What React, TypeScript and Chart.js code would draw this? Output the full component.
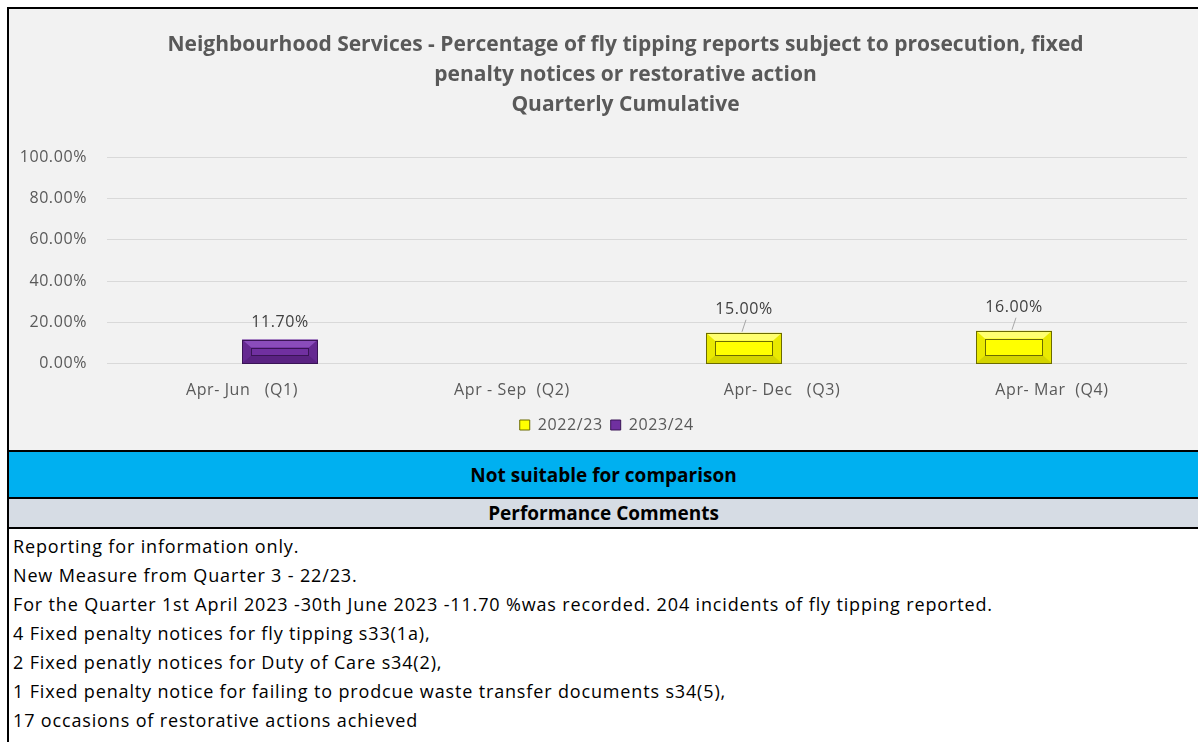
import React, { useEffect, useRef } from "react";
import { Chart, registerables } from "chart.js";

Chart.register(...registerables);

const titleLines = [
  "Neighbourhood Services - Percentage of fly tipping reports subject to prosecution, fixed",
  "penalty notices or restorative action",
  "Quarterly Cumulative",
];
const categories = ["Apr- Jun   (Q1)", "Apr - Sep  (Q2)", "Apr- Dec   (Q3)", "Apr- Mar  (Q4)"];
const seriesNames = ["2022/23", "2023/24"];
const values2022 = [null, null, 15.0, 16.0];
const values2023 = [11.7, null, null, null];
const yMin = 0;
const yMax = 100;
const yStep = 20;
const bannerText = "Not suitable for comparison";
const commentsHeader = "Performance Comments";
const comments = [
  "Reporting for information only.",
  "New Measure from Quarter 3 - 22/23.",
  "For the Quarter 1st April 2023 -30th June 2023 -11.70 %was recorded. 204 incidents of fly tipping reported.",
  "4 Fixed penalty notices for fly tipping s33(1a),",
  "2 Fixed penatly notices for Duty of Care s34(2),",
  "1 Fixed penalty notice for failing to prodcue waste transfer documents s34(5),",
  "17 occasions of restorative actions achieved",
];

const FONT = "'Open Sans', Lato, sans-serif";
const SPACING = "0.6px";
const TITLE_SHIFT = 23;
const palette = [
  { base: "#ffff00", light: "#ffff70", dark: "#d4d400", edge: "#6b6b00" },
  { base: "#7030a0", light: "#8a4cbb", dark: "#5a2282", edge: "#3a1456" },
];

const spacingPlugin = {
  id: "spacing",
  afterLayout(chart: any) {
    const tb = chart.titleBlock;
    if (tb && !tb._noSpacing) {
      const orig = tb.draw;
      tb.draw = function (...args: any[]) {
        const ctx = chart.ctx;
        ctx.save();
        ctx.letterSpacing = "0px";
        ctx.translate(TITLE_SHIFT, 0);
        orig.apply(tb, args);
        ctx.restore();
      };
      tb._noSpacing = true;
    }
  },
  beforeDraw(chart: any) {
    chart.ctx.letterSpacing = SPACING;
  },
};

const bevelPlugin = {
  id: "bevel",
  afterDatasetsDraw(chart: any) {
    const ctx = chart.ctx;
    chart.data.datasets.forEach((ds: any, di: number) => {
      const meta = chart.getDatasetMeta(di);
      const col = palette[di];
      meta.data.forEach((el: any, i: number) => {
        if (ds.data[i] == null) return;
        const { x, y, base, width } = el.getProps(["x", "y", "base", "width"], true);
        const l = x - width / 2;
        const r = x + width / 2;
        const t = Math.min(y, base);
        const b = Math.max(y, base);
        const h = b - t;
        const bx = Math.min(9, width / 4);
        const by = Math.min(8, h / 3);
        ctx.save();
        ctx.fillStyle = col.light;
        ctx.beginPath();
        ctx.moveTo(l, t); ctx.lineTo(r, t); ctx.lineTo(r - bx, t + by); ctx.lineTo(l + bx, t + by); ctx.closePath();
        ctx.fill();
        ctx.fillStyle = col.dark;
        ctx.beginPath();
        ctx.moveTo(l, b); ctx.lineTo(r, b); ctx.lineTo(r - bx, b - by); ctx.lineTo(l + bx, b - by); ctx.closePath();
        ctx.fill();
        ctx.globalAlpha = 0.5;
        ctx.beginPath();
        ctx.moveTo(l, t); ctx.lineTo(l + bx, t + by); ctx.lineTo(l + bx, b - by); ctx.lineTo(l, b); ctx.closePath();
        ctx.fill();
        ctx.beginPath();
        ctx.moveTo(r, t); ctx.lineTo(r - bx, t + by); ctx.lineTo(r - bx, b - by); ctx.lineTo(r, b); ctx.closePath();
        ctx.fill();
        ctx.globalAlpha = 1;
        ctx.fillStyle = col.base;
        ctx.fillRect(l + bx, t + by, width - 2 * bx, h - 2 * by);
        ctx.strokeStyle = col.edge;
        ctx.lineWidth = 1;
        ctx.strokeRect(Math.round(l + bx) + 0.5, Math.round(t + by) + 0.5, Math.round(width - 2 * bx) - 1, Math.round(h - 2 * by) - 1);
        ctx.strokeRect(Math.round(l) + 0.5, Math.round(t) + 0.5, Math.round(width) - 1, Math.round(h) - 1);
        ctx.restore();
      });
    });
  },
};

const labelPlugin = {
  id: "valueLabels",
  afterDatasetsDraw(chart: any) {
    const ctx = chart.ctx;
    ctx.save();
    ctx.font = `16px ${FONT}`;
    ctx.fillStyle = "#404040";
    ctx.textAlign = "center";
    ctx.textBaseline = "middle";
    chart.data.datasets.forEach((ds: any, di: number) => {
      const meta = chart.getDatasetMeta(di);
      meta.data.forEach((el: any, i: number) => {
        const v = ds.data[i];
        if (v == null) return;
        const { x, y } = el.getProps(["x", "y"], true);
        const lifted = di === 0;
        const ly = lifted ? y - 23 : y - 17;
        ctx.fillText(v.toFixed(2) + "%", x, ly);
        if (lifted) {
          ctx.strokeStyle = "#a6a6a6";
          ctx.lineWidth = 1;
          ctx.beginPath();
          ctx.moveTo(x + 2, ly + 10);
          ctx.lineTo(x - 2, y - 1);
          ctx.stroke();
        }
      });
    });
    ctx.restore();
  },
};

function BarChart() {
  const ref = useRef<HTMLCanvasElement>(null);
  useEffect(() => {
    const chart = new Chart(ref.current as HTMLCanvasElement, {
      type: "bar",
      data: {
        labels: categories,
        datasets: [
          {
            label: seriesNames[0],
            data: values2022,
            backgroundColor: palette[0].base,
            borderColor: palette[0].edge,
            borderWidth: 1,
            barPercentage: 1,
            categoryPercentage: 0.563,
          },
          {
            label: seriesNames[1],
            data: values2023,
            backgroundColor: palette[1].base,
            borderColor: palette[1].edge,
            borderWidth: 1,
            barPercentage: 1,
            categoryPercentage: 0.563,
          },
        ],
      },
      options: {
        responsive: false,
        animation: false,
        devicePixelRatio: 1,
        layout: { padding: { left: 9, right: 11, top: 0, bottom: 7 } },
        plugins: {
          title: {
            display: true,
            text: titleLines,
            color: "#595959",
            font: { family: FONT, size: 21, weight: "bold", lineHeight: 30 / 21 },
            padding: { top: 21, bottom: 37 },
          },
          legend: {
            position: "bottom",
            labels: {
              color: "#595959",
              font: { family: FONT, size: 16 },
              boxWidth: 10,
              boxHeight: 10,
              padding: 8,
            },
          },
          tooltip: { enabled: false },
        },
        scales: {
          x: {
            grid: { display: false },
            border: { display: false },
            ticks: { color: "#595959", font: { family: FONT, size: 16 }, padding: 9 },
          },
          y: {
            min: yMin,
            max: yMax,
            afterFit(scale: any) {
              scale.width = 89;
            },
            ticks: {
              stepSize: yStep,
              color: "#595959",
              font: { family: FONT, size: 16 },
              padding: 20,
              callback: (v: any) => Number(v).toFixed(2) + "%",
            },
            grid: { color: "#d9d9d9", drawTicks: false },
            border: { display: false },
          },
        },
      },
      plugins: [spacingPlugin, bevelPlugin, labelPlugin],
    } as any);
    return () => chart.destroy();
  }, []);
  return <canvas ref={ref} width={1189} height={441} style={{ display: "block" }} />;
}

export default function App() {
  return (
    <div
      style={{
        position: "fixed",
        left: 0,
        top: 0,
        width: 1198,
        height: 742,
        background: "#ffffff",
        overflow: "hidden",
        fontFamily: FONT,
      }}
    >
      <div
        style={{
          position: "absolute",
          left: 7,
          top: 7,
          width: 1200,
          height: 760,
          borderLeft: "2px solid #000",
          borderTop: "2px solid #000",
        }}
      >
        <div style={{ background: "#f2f2f2", height: 441 }}>
          <BarChart />
        </div>
        <div style={{ borderTop: "2px solid #000", borderBottom: "2px solid #000", background: "#00b0f0", height: 45, width: 1189, display: "flex", alignItems: "center", justifyContent: "center", fontWeight: "bold", fontSize: 19, color: "#000" }}>
          {bannerText}
        </div>
        <div style={{ borderBottom: "2px solid #000", background: "#d6dce4", height: 28, width: 1189, display: "flex", alignItems: "center", justifyContent: "center", fontWeight: "bold", fontSize: 19, color: "#000" }}>
          {commentsHeader}
        </div>
        <div style={{ paddingLeft: 4, paddingTop: 3 }}>
          {comments.map((c, i) => (
            <div key={i} style={{ fontSize: 18, letterSpacing: "0.85px", lineHeight: "29px", height: 29, color: "#000", whiteSpace: "pre" }}>
              {c}
            </div>
          ))}
        </div>
      </div>
    </div>
  );
}
